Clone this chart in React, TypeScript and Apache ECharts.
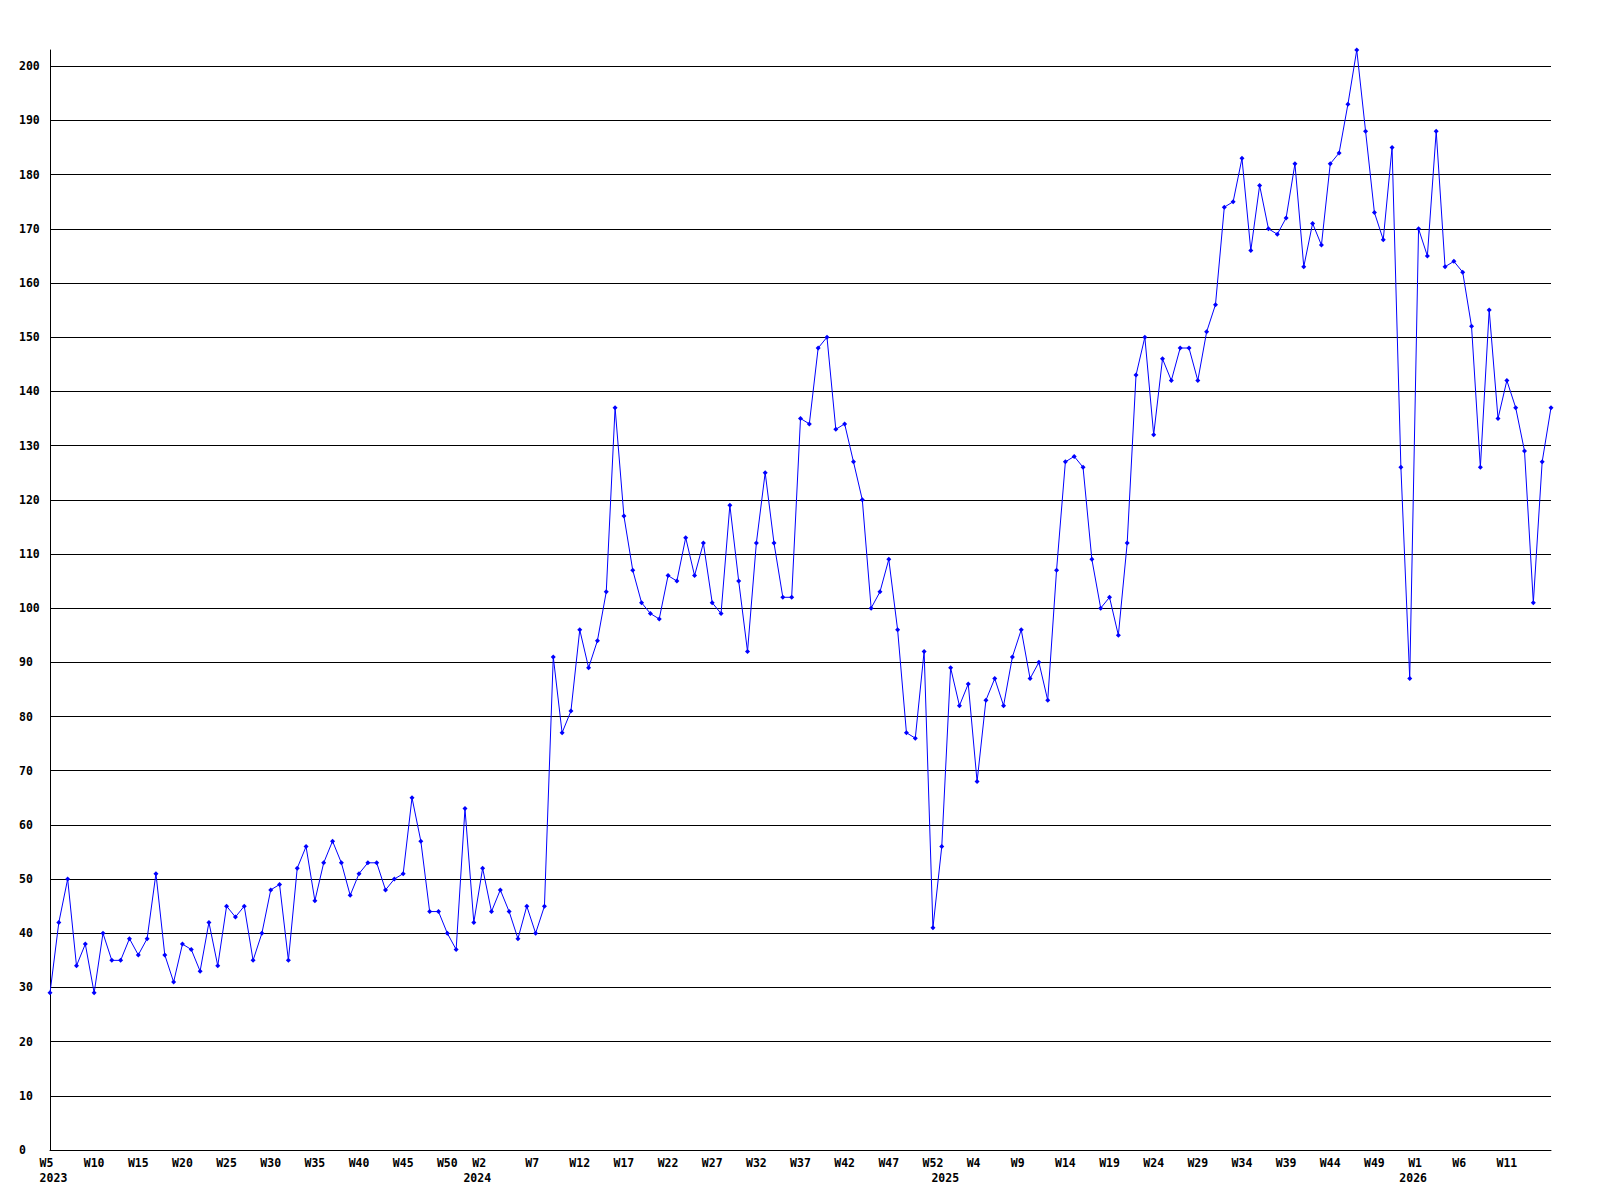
import React, { useEffect, useRef } from "react";
import * as echarts from "echarts";

// Weekly values, 2023 W5 .. 2026 (171 points)
const values2023: number[] = [
  29, 42, 50, 34, 38, 29, 40, 35, 35, 39, 36, 39, 51, 36, 31, 38, 37, 33, 42, 34,
  45, 43, 45, 35, 40, 48, 49, 35, 52, 56, 46, 53, 57, 53, 47, 51, 53, 53, 48, 50,
  51, 65, 57, 44, 44, 40, 37, 63,
];
const values2024: number[] = [
  42, 52, 44, 48, 44, 39, 45, 40, 45, 91, 77, 81, 96, 89, 94, 103, 137, 117, 107, 101,
  99, 98, 106, 105, 113, 106, 112, 101, 99, 119, 105, 92, 112, 125, 112, 102, 102, 135, 134, 148,
  150, 133, 134, 127, 120, 100, 103, 109, 96, 77, 76, 92, 41,
];
const values2025: number[] = [
  56, 89, 82, 86, 68, 83, 87, 82, 91, 96, 87, 90, 83, 107, 127, 128, 126, 109, 100, 102,
  95, 112, 143, 150, 132, 146, 142, 148, 148, 142, 151, 156, 174, 175, 183, 166, 178, 170, 169, 172,
  182, 163, 171, 167, 182, 184, 193, 203, 188, 173, 168, 185, 126,
];
const values2026: number[] = [87, 170, 165, 188, 163, 164, 162, 152, 126, 155, 135, 142, 137, 129, 101, 127, 137];

const yearStarts: { year: string; firstWeek: number; count: number }[] = [
  { year: "2023", firstWeek: 5, count: values2023.length },
  { year: "2024", firstWeek: 0, count: values2024.length },
  { year: "2025", firstWeek: 0, count: values2025.length },
  { year: "2026", firstWeek: 0, count: values2026.length },
];

// Tick labels (index of point -> text)
const weekTickIndex: number[] = [
  0, 5, 10, 15, 20, 25, 30, 35, 40, 45, 49, 55, 60, 65, 70, 75, 80, 85, 90, 95, 100,
  105, 110, 115, 120, 125, 130, 135, 140, 145, 150, 155, 160, 165,
];
const weekTickText: string[] = [
  "W5", "W10", "W15", "W20", "W25", "W30", "W35", "W40", "W45", "W50", "W2", "W7", "W12",
  "W17", "W22", "W27", "W32", "W37", "W42", "W47", "W52", "W4", "W9", "W14", "W19", "W24",
  "W29", "W34", "W39", "W44", "W49", "W1", "W6", "W11",
];
const yearTickIndex: number[] = [0, 48, 101, 154];
const yearTickText: string[] = ["2023", "2024", "2025", "2026"];

const categories: string[] = [];
yearStarts.forEach((y) => {
  for (let i = 0; i < y.count; i++) categories.push(`${y.year}-W${y.firstWeek + i}`);
});
const seriesData: number[] = [...values2023, ...values2024, ...values2025, ...values2026];

const NB = "\u00a0";
const labelMap: Record<number, string> = {};
const allIdx = new Set<number>([...weekTickIndex, ...yearTickIndex]);
allIdx.forEach((idx) => {
  const wi = weekTickIndex.indexOf(idx);
  const yi = yearTickIndex.indexOf(idx);
  let w = wi >= 0 ? weekTickText[wi] : NB;
  if (w.length < 3) w = w + NB.repeat(3 - w.length);
  const y = yi >= 0 ? NB + yearTickText[yi] : "";
  labelMap[idx] = y ? w + "\n" + y : w;
});

const FONT = "DejaVu Sans Mono";

export default function App() {
  const ref = useRef<HTMLDivElement>(null);
  useEffect(() => {
    if (!ref.current) return;
    const chart = echarts.init(ref.current, undefined, { renderer: "svg" });
    chart.setOption({
      animation: false,
      backgroundColor: "#ffffff",
      grid: { left: 50, right: 49, top: 50, bottom: 50, containLabel: false },
      xAxis: {
        type: "category",
        data: categories,
        boundaryGap: false,
        axisLine: { show: true, lineStyle: { color: "#000", width: 1 } },
        axisTick: { show: false },
        splitLine: { show: false },
        axisLabel: {
          interval: (index: number) => labelMap[index] !== undefined,
          formatter: (_v: string, index: number) => labelMap[index] ?? "",
          color: "#000",
          fontFamily: FONT,
          fontWeight: "bold",
          fontSize: 11.5,
          lineHeight: 15,
          margin: 5,
          align: "center",
        },
      },
      yAxis: {
        type: "value",
        min: 0,
        max: 203,
        interval: 10,
        axisLine: { show: true, lineStyle: { color: "#000", width: 1 } },
        axisTick: { show: false },
        splitLine: { show: true, showMaxLine: false, lineStyle: { color: "#000", width: 1 } },
        axisLabel: {
          showMaxLabel: false,
          align: "left",
          margin: 31,
          color: "#000",
          fontFamily: FONT,
          fontWeight: "bold",
          fontSize: 11.5,
        },
      },
      series: [
        {
          type: "line",
          data: seriesData,
          symbol: "diamond",
          symbolSize: 5,
          showAllSymbol: true,
          lineStyle: { color: "#0000ff", width: 1 },
          itemStyle: { color: "#0000ff" },
        },
      ],
    });
    return () => chart.dispose();
  }, []);
  return (
    <div
      ref={ref}
      style={{ position: "absolute", left: 0, top: 0, width: 1600, height: 1200, background: "#fff" }}
    />
  );
}
